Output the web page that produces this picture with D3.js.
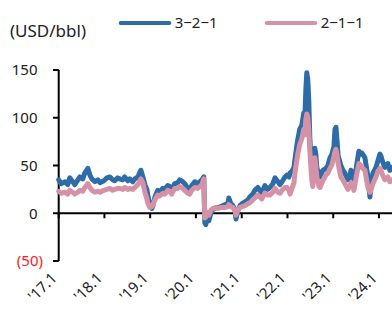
<!DOCTYPE html>
<meta charset="utf-8">
<title>Crack spreads</title>
<style>
  body { margin: 0; background-color: white; }
  text { font-family: "Noto Sans", sans-serif; fill: #222; }
  .series { fill: none; stroke-width: 5px; stroke-linejoin: round; stroke-linecap: round; }
</style>
<svg width="392" height="326"></svg>
<script src="https://cdn.jsdelivr.net/npm/d3@7"></script>
<script>
// values, USD/bbl
var dates = ["2017-01-01","2017-01-19","2017-02-20","2017-03-14","2017-03-30","2017-04-23","2017-05-09","2017-06-03","2017-06-19","2017-07-12","2017-07-28","2017-08-22","2017-09-07","2017-09-23","2017-10-17","2017-11-10","2017-11-26","2017-12-28",
  "2018-01-21","2018-02-14","2018-03-08","2018-03-24","2018-04-17","2018-05-03","2018-05-27","2018-06-12","2018-07-06","2018-07-22","2018-08-15","2018-09-01","2018-09-25","2018-10-11","2018-10-19","2018-11-04","2018-11-20","2018-12-06","2018-12-14","2018-12-30",
  "2019-01-15","2019-01-23","2019-02-08","2019-03-02","2019-03-18","2019-04-11","2019-04-27","2019-05-21","2019-06-06","2019-06-22","2019-07-16","2019-08-09","2019-08-25","2019-09-18","2019-10-04","2019-10-28","2019-11-13","2019-11-29","2019-12-23",
  "2020-01-16","2020-02-02","2020-02-18","2020-03-04","2020-03-12","2020-03-20","2020-03-28","2020-04-13","2020-04-29","2020-05-15","2020-06-08","2020-06-24","2020-07-18","2020-08-19","2020-09-12","2020-09-20","2020-10-06","2020-10-22","2020-11-08","2020-11-16","2020-12-02","2020-12-18",
  "2021-01-03","2021-01-27","2021-02-20","2021-03-06","2021-03-30","2021-04-15","2021-05-09","2021-05-25","2021-06-10","2021-07-04","2021-07-28","2021-08-13","2021-09-07","2021-09-23","2021-10-17","2021-11-02","2021-11-18","2021-12-12","2021-12-28",
  "2022-01-13","2022-01-21","2022-02-06","2022-02-22","2022-03-01","2022-03-16","2022-03-24","2022-04-09","2022-04-25","2022-05-11","2022-05-19","2022-05-27","2022-06-04","2022-06-12","2022-06-20","2022-06-28","2022-07-06","2022-07-14","2022-07-22","2022-08-07","2022-08-15","2022-08-23","2022-09-09","2022-09-17","2022-10-10","2022-11-04","2022-11-20","2022-12-06","2022-12-22",
  "2023-01-07","2023-01-15","2023-01-23","2023-02-01","2023-02-09","2023-03-03","2023-03-19","2023-04-04","2023-04-28","2023-05-14","2023-05-22","2023-06-07","2023-06-15","2023-07-01","2023-07-09","2023-07-25","2023-08-10","2023-08-18","2023-09-03","2023-09-11","2023-09-27","2023-10-05","2023-10-21","2023-10-29","2023-11-14","2023-12-08","2023-12-24",
  "2024-01-09","2024-01-17","2024-01-25","2024-02-10","2024-02-18","2024-03-12","2024-03-28","2024-04-13","2024-05-01"];

var spread321 = [35,31,33,30,37,33,30,35,38,36,42,47,40,36,33,35,32,34,
  37,38,35,34,37,36,35,38,34,36,33,36,38,43,45,38,30,25,18,8,
  5,8,17,24,22,26,25,29,28,24,31,32,35,33,31,26,25,29,33,
  31,33,35,38,-10,-12,-4,-8,0,4,6,6,7,9,10,16,10,8,3,-6,3,8,
  10,12,14,17,20,24,27,24,21,29,25,27,31,37,33,30,33,38,40,
  38,42,44,48,56,70,77,88,92,105,98,128,147,140,118,80,60,45,38,68,62,48,40,38,45,47,50,58,62,
  70,88,90,75,60,50,45,42,35,38,45,40,35,45,52,65,62,63,60,58,45,38,17,30,42,48,55,
  62,60,56,50,48,52,45,48,44];

var spread211 = [23,21,22,20,24,22,20,22,24,23,27,31,27,24,22,23,22,24,
  25,26,24,25,26,26,25,27,25,26,25,27,30,34,36,32,22,15,10,6,
  7,9,14,19,18,21,20,24,23,20,26,26,28,26,24,21,20,24,27,
  26,28,30,36,-5,-4,1,-2,3,5,6,5,6,6,7,9,7,6,3,-2,4,6,
  7,8,10,11,14,16,19,17,15,21,19,19,22,26,22,21,24,27,27,
  24,20,26,32,42,55,62,72,78,88,82,98,104,100,88,66,50,35,28,58,50,38,28,27,34,40,42,47,51,
  60,65,67,60,52,38,35,31,25,28,32,28,24,36,42,52,50,48,46,45,33,27,22,24,31,38,44,
  47,45,42,37,35,38,33,35,32];

var yTicks = [150, 100, 50, 0, -50];
var xTickDates = ["2017-01-01","2018-01-01","2019-01-01","2020-01-01","2021-01-01","2022-01-01","2023-01-01","2024-01-01"];
var xTickLabels = ["'17.1","'18.1","'19.1","'20.1","'21.1","'22.1","'23.1","'24.1"];

var seriesNames = ["3−2−1", "2−1−1"];
var seriesColors = ["#2d6ca7", "#d592a6"];

var svg = d3.select("svg");
var parse = d3.timeParse("%Y-%m-%d");

var x = d3.scaleTime()
          .domain([parse("2017-01-01"), parse("2024-06-01")])
          .range([58.7, 398]);
var y = d3.scaleLinear()
          .domain([-50, 150])
          .range([261, 70]);

var rows = dates.map(function(d, i) {
  return { date: parse(d), a: spread321[i], b: spread211[i] };
});

// y axis line + ticks
svg.append("line")
   .attr("x1", 58.7).attr("x2", 58.7)
   .attr("y1", y(150)).attr("y2", y(-50))
   .attr("stroke", "#000").attr("stroke-width", 2);

svg.selectAll(".ytick")
   .data(yTicks)
   .enter().append("line")
   .attr("x1", 53).attr("x2", 58.7)
   .attr("y1", function(d) { return y(d); })
   .attr("y2", function(d) { return y(d); })
   .attr("stroke", "#000").attr("stroke-width", 2);

svg.selectAll(".ylab")
   .data(yTicks)
   .enter().append("text")
   .attr("x", function(d) { return d < 0 ? 43 : 37.5; })
   .attr("y", function(d) { return y(d); })
   .attr("dy", "0.35em")
   .attr("text-anchor", "end")
   .style("font-size", "15px")
   .style("fill", function(d) { return d < 0 ? "#ff2020" : "#222"; })
   .text(function(d) { return d < 0 ? "(" + Math.abs(d) + ")" : d; });

// zero line with ticks
svg.append("line")
   .attr("x1", 58.7).attr("x2", 392)
   .attr("y1", y(0)).attr("y2", y(0))
   .attr("stroke", "#000").attr("stroke-width", 2);

svg.selectAll(".xtick")
   .data(xTickDates)
   .enter().append("line")
   .attr("x1", function(d) { return x(parse(d)); })
   .attr("x2", function(d) { return x(parse(d)); })
   .attr("y1", y(0)).attr("y2", y(0) + 5)
   .attr("stroke", "#000").attr("stroke-width", 2);

svg.selectAll(".xlab")
   .data(xTickDates)
   .enter().append("text")
   .attr("text-anchor", "end")
   .style("font-size", "15px")
   .attr("transform", function(d) {
     return "translate(" + (x(parse(d)) - 1) + ",279) rotate(-45)";
   })
   .text(function(d, i) { return xTickLabels[i]; });

// series
var line321 = d3.line()
                .x(function(d) { return x(d.date); })
                .y(function(d) { return y(d.a); });
var line211 = d3.line()
                .x(function(d) { return x(d.date); })
                .y(function(d) { return y(d.b); });

svg.append("path")
   .datum(rows)
   .attr("class", "series")
   .attr("stroke", seriesColors[0])
   .attr("d", line321);

svg.append("path")
   .datum(rows)
   .attr("class", "series")
   .attr("stroke", seriesColors[1])
   .attr("d", line211);

// unit label + legend
svg.append("text")
   .attr("x", 10).attr("y", 31)
   .attr("dy", "0.35em")
   .style("font-size", "17px")
   .text("(USD/bbl)");

var legendX = [120.7, 266.7];
seriesNames.forEach(function(name, i) {
  svg.append("line")
     .attr("x1", legendX[i]).attr("x2", legendX[i] + 48.6)
     .attr("y1", 23).attr("y2", 23)
     .attr("stroke", seriesColors[i])
     .attr("stroke-width", 4)
     .attr("stroke-linecap", "round");
  svg.append("text")
     .attr("x", legendX[i] + 54).attr("y", 23)
     .attr("dy", "0.35em")
     .style("font-size", "15px")
     .text(name);
});
</script>
